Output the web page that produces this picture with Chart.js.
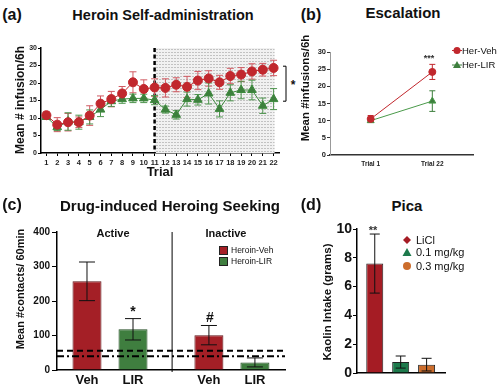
<!DOCTYPE html>
<html>
<head>
<meta charset="utf-8">
<script src="https://cdn.jsdelivr.net/npm/chart.js@4.4.1/dist/chart.umd.min.js"></script>
<style>
    body { margin: 0; width: 500px; height: 386px; position: relative; background: #fff; overflow: hidden;
           font-family: "Liberation Sans", Arial, sans-serif; color: #111; }
    canvas { position: absolute; }
    .t { position: absolute; white-space: nowrap; transform: translate(-50%, -50%); font-weight: bold; }
    .rot { transform: translate(-50%, -50%) rotate(-90deg); }
    .leg { position: absolute; white-space: nowrap; display: flex; align-items: center; }
    .box { display: inline-block; width: 7px; height: 7px; border: 1px solid #222; margin-right: 3px; }
</style>
</head>
<body>
<canvas id="chart-a" width="290" height="140" style="left:0;top:40px"></canvas>
<canvas id="chart-b" width="200" height="140" style="left:300px;top:40px"></canvas>
<canvas id="chart-c" width="300" height="171" style="left:0;top:215px"></canvas>
<canvas id="chart-d" width="170" height="171" style="left:330px;top:215px"></canvas>

<div class="t" style="left:12px;top:15px;font-size:16px">(a)</div>
<div class="t" style="left:163px;top:15px;font-size:14.5px">Heroin Self-administration</div>
<div class="t rot" style="left:20px;top:100px;font-size:12px">Mean # infusion/6h</div>
<div class="t" style="left:160px;top:171px;font-size:13px">Trial</div>
<div class="t" style="left:293px;top:85px;font-size:12px">*</div>

<div class="t" style="left:311px;top:15px;font-size:16px">(b)</div>
<div class="t" style="left:403px;top:12px;font-size:15px">Escalation</div>
<div class="t rot" style="left:305px;top:88px;font-size:11.5px">Mean #infusions/6h</div>
<div class="t" style="left:429px;top:58px;font-size:9px;color:#333">***</div>
<div class="leg" style="left:452px;top:45px;font-size:9.5px">
    <svg width="10" height="9"><line x1="0" y1="4.5" x2="10" y2="4.5" stroke="#c1272d"/><circle cx="5" cy="4.5" r="3.5" fill="#c1272d"/></svg>Her-Veh
</div>
<div class="leg" style="left:452px;top:59px;font-size:9.5px">
    <svg width="10" height="9"><line x1="0" y1="5" x2="10" y2="5" stroke="#3d7f3d"/><polygon points="5,1 9,8 1,8" fill="#3d7f3d"/></svg>Her-LIR
</div>

<div class="t" style="left:12px;top:205px;font-size:16px">(c)</div>
<div class="t" style="left:170px;top:205px;font-size:15px">Drug-induced Heroing Seeking</div>
<div class="t rot" style="left:20px;top:289px;font-size:11px">Mean #contacts/ 60min</div>
<div class="t" style="left:113px;top:233px;font-size:11px">Active</div>
<div class="t" style="left:226px;top:233px;font-size:11px">Inactive</div>
<div class="t" style="left:133px;top:311px;font-size:14px">*</div>
<div class="t" style="left:210px;top:317px;font-size:14px">#</div>
<div class="leg" style="left:219px;top:245px;font-size:8.5px"><span class="box" style="background:#a41f26"></span>Heroin-Veh</div>
<div class="leg" style="left:219px;top:256px;font-size:8.5px"><span class="box" style="background:#3f7e3f"></span>Heroin-LIR</div>

<div class="t" style="left:311px;top:205px;font-size:16px">(d)</div>
<div class="t" style="left:407px;top:205px;font-size:15px">Pica</div>
<div class="t rot" style="left:327px;top:302px;font-size:11.5px">Kaolin Intake (grams)</div>
<div class="t" style="left:373px;top:230px;font-size:11px;color:#333">**</div>
<div class="leg" style="left:402px;top:234px;font-size:11px">
    <svg width="10" height="10" style="margin-right:4px"><polygon points="5,1 9,5 5,9 1,5" fill="#a51c24"/></svg>LiCl
</div>
<div class="leg" style="left:402px;top:246px;font-size:11px">
    <svg width="10" height="10" style="margin-right:4px"><polygon points="5,1 9.5,9 0.5,9" fill="#1d7a4c"/></svg>0.1 mg/kg
</div>
<div class="leg" style="left:402px;top:260px;font-size:11px">
    <svg width="10" height="10" style="margin-right:4px"><circle cx="5" cy="5" r="4" fill="#cc6d2c"/></svg>0.3 mg/kg
</div>

<script>
// (a) self-administration, 22 trials
const trials = ['1', '2', '3', '4', '5', '6', '7', '8', '9', '10', '11',
    '12', '13', '14', '15', '16', '17', '18', '19', '20', '21', '22'];
const vehMean = [10.8, 8.1, 8.8, 8.8, 10.7, 14.1, 15.4, 17.0, 20.2, 18.3, 18.7,
    18.6, 19.5, 18.9, 20.7, 21.3, 20.2, 22.0, 22.4, 23.3, 23.8, 24.3];
const vehErr = [1.0, 2.0, 2.5, 1.5, 2.8, 2.2, 2.2, 2.0, 3.0, 2.6, 2.5,
    2.6, 2.0, 3.0, 2.6, 2.2, 2.0, 2.2, 2.0, 2.2, 1.8, 2.2];
const lirMean = [10.3, 7.4, 9.0, 8.8, 10.3, 12.4, 14.8, 15.4, 15.6, 15.6, 15.1,
    12.4, 10.9, 15.4, 15.2, 17.0, 12.6, 17.2, 18.0, 18.0, 13.5, 15.4];
const lirErr = [0.6, 1.0, 2.5, 2.0, 2.0, 2.0, 1.5, 1.2, 1.2, 1.2, 1.3,
    1.0, 1.2, 2.0, 1.5, 3.0, 2.3, 2.3, 2.5, 2.8, 2.2, 3.0];

// (b) escalation
const escTrials = ['Trial 1', 'Trial 22'];
const escVeh = [10.5, 24.2];
const escVehErr = [1.0, 2.2];
const escLir = [10.0, 15.7];
const escLirErr = [0.5, 3.0];

// (c) drug-induced seeking
const leverGroups = ['Active', 'Inactive'];
const seekTreat = ['Veh', 'LIR'];
const seekVeh = [257, 101];
const seekVehErr = [56, 28];
const seekLir = [118, 22];
const seekLirErr = [31, 13];
const seekBaselines = [56, 40];

// (d) pica
const picaDoses = ['LiCl', '0.1 mg/kg', '0.3 mg/kg'];
const picaMean = [7.6, 0.76, 0.58];
const picaErr = [2.05, 0.42, 0.44];

Chart.defaults.font.family = '"Liberation Sans", Arial, sans-serif';
Chart.defaults.color = '#222';
Chart.defaults.animation = false;

function drawErrorBars(chart, opts) {
    const ctx = chart.ctx;
    const yScale = chart.scales.y;
    chart.data.datasets.forEach((ds, i) => {
        if (!ds.errors) return;
        const meta = chart.getDatasetMeta(i);
        ctx.save();
        ctx.strokeStyle = ds.errorColor || opts.color || '#000';
        ctx.lineWidth = opts.lineWidth || 1;
        meta.data.forEach((el, j) => {
            const v = meta.controller.getParsed(j).y;
            const e = ds.errors[j];
            const top = yScale.getPixelForValue(v + e);
            const bot = yScale.getPixelForValue(v - e);
            const w = opts.capWidth / 2;
            ctx.beginPath();
            ctx.moveTo(el.x, top); ctx.lineTo(el.x, bot);
            ctx.moveTo(el.x - w, top); ctx.lineTo(el.x + w, top);
            ctx.moveTo(el.x - w, bot); ctx.lineTo(el.x + w, bot);
            ctx.stroke();
        });
        ctx.restore();
    });
}

const errorBarsPlugin = {
    id: 'errorBars',
    beforeDatasetsDraw(chart, args, opts) { if (opts.behind) drawErrorBars(chart, opts); },
    afterDatasetsDraw(chart, args, opts) { if (!opts.behind) drawErrorBars(chart, opts); }
};

// shaded block + dashed line from trial 11 on, bracket at the end
const escalationPhase = {
    id: 'escalationPhase',
    beforeDatasetsDraw(chart) {
        const {ctx, chartArea, scales: {x, y}} = chart;
        const pc = document.createElement('canvas');
        pc.width = 3; pc.height = 3;
        const p = pc.getContext('2d');
        p.fillStyle = '#f1f1f1'; p.fillRect(0, 0, 3, 3);
        p.fillStyle = '#c2c2c2'; p.fillRect(0, 0, 2, 1);
        const x0 = x.getPixelForValue(10);
        const x1 = x.getPixelForValue(trials.length - 1) + 1;
        ctx.save();
        ctx.fillStyle = ctx.createPattern(pc, 'repeat');
        ctx.fillRect(x0, chartArea.top, x1 - x0, chartArea.bottom - chartArea.top);
        ctx.strokeStyle = '#000';
        ctx.lineWidth = 2.5;
        ctx.setLineDash([4, 2.5]);
        ctx.beginPath();
        ctx.moveTo(x0, chartArea.top);
        ctx.lineTo(x0, chartArea.bottom);
        ctx.stroke();
        ctx.setLineDash([]);
        ctx.lineWidth = 1;
        const bx = chartArea.right + 4;
        const yt = y.getPixelForValue(vehMean[vehMean.length - 1] + 0.5);
        const yb = y.getPixelForValue(lirMean[lirMean.length - 1] - 0.6);
        ctx.beginPath();
        ctx.moveTo(bx, yt); ctx.lineTo(bx + 3, yt); ctx.lineTo(bx + 3, yb); ctx.lineTo(bx, yb);
        ctx.stroke();
        ctx.restore();
    }
};

// dashed baseline lines and divider for (c)
const seekingGuides = {
    id: 'seekingGuides',
    afterDatasetsDraw(chart) {
        const {ctx, chartArea, scales: {x, y}} = chart;
        ctx.save();
        ctx.strokeStyle = '#000';
        ctx.lineWidth = 2;
        [[6, 4], [7, 3, 2, 3]].forEach((dash, k) => {
            const py = y.getPixelForValue(seekBaselines[k]);
            ctx.setLineDash(dash);
            ctx.beginPath();
            ctx.moveTo(chartArea.left, py);
            ctx.lineTo(chartArea.right, py);
            ctx.stroke();
        });
        ctx.setLineDash([]);
        ctx.lineWidth = 1;
        const dx = x.getPixelForValue(1.85);
        ctx.beginPath();
        ctx.moveTo(dx, chartArea.top);
        ctx.lineTo(dx, chartArea.bottom + 2);
        ctx.stroke();
        ctx.restore();
    }
};

function fixedY(width, max, step, size, extra = {}) {
    return Object.assign({
        min: 0, max: max,
        afterFit: s => { s.width = width; },
        border: {color: '#000', width: 1.5},
        grid: {drawOnChartArea: false, tickLength: 3, tickColor: '#000'},
        ticks: {stepSize: step, padding: 1, color: '#222', font: {size: size, weight: 'bold'}}
    }, extra);
}

// (a)
new Chart(document.getElementById('chart-a'), {
    type: 'line',
    data: {
        labels: trials,
        datasets: [
            {
                label: 'Her-Veh', data: vehMean, errors: vehErr, errorColor: '#d05a62',
                borderColor: '#c1272d', backgroundColor: '#c1272d', borderWidth: 1,
                pointStyle: 'circle', pointRadius: 4.5
            },
            {
                label: 'Her-LIR', data: lirMean, errors: lirErr, errorColor: '#4f944f',
                borderColor: '#3d8a3d', backgroundColor: '#3d7f3d', borderWidth: 1,
                pointStyle: 'triangle', pointRadius: 5
            }
        ]
    },
    options: {
        responsive: false,
        layout: {padding: {top: 8, right: 11, bottom: 0, left: 0}},
        plugins: {legend: {display: false}, tooltip: {enabled: false},
            errorBars: {behind: true, capWidth: 7, lineWidth: 1}},
        scales: {
            x: {
                offset: true,
                afterFit: s => { s.height = 27; },
                border: {color: '#000', width: 1.5},
                grid: {drawOnChartArea: false, tickLength: 3, tickColor: '#000', offset: false},
                ticks: {padding: 2, color: '#222', maxRotation: 0, autoSkip: false, font: {size: 7.5, weight: 'bold'}}
            },
            y: fixedY(41, 30, 5, 7)
        }
    },
    plugins: [escalationPhase, errorBarsPlugin]
});

// (b)
new Chart(document.getElementById('chart-b'), {
    type: 'line',
    data: {
        datasets: [
            {
                label: 'Her-Veh', data: escVeh.map((v, i) => ({x: i + 1, y: v})), errors: escVehErr,
                errorColor: '#c1272d', borderColor: '#c1272d', backgroundColor: '#c1272d',
                borderWidth: 1, pointStyle: 'circle', pointRadius: 3.5
            },
            {
                label: 'Her-LIR', data: escLir.map((v, i) => ({x: i + 1, y: v})), errors: escLirErr,
                errorColor: '#3d7f3d', borderColor: '#4a9a4a', backgroundColor: '#3d7f3d',
                borderWidth: 1, pointStyle: 'triangle', pointRadius: 4
            }
        ]
    },
    options: {
        responsive: false,
        layout: {padding: {top: 12, right: 27, bottom: 0, left: 0}},
        plugins: {legend: {display: false}, tooltip: {enabled: false},
            errorBars: {behind: true, capWidth: 6, lineWidth: 1}},
        scales: {
            x: {
                type: 'linear', min: 0.34, max: 2.66,
                afterFit: s => { s.height = 25; },
                afterBuildTicks: s => { s.ticks = escTrials.map((t, i) => ({value: i + 1})); },
                border: {color: '#333', width: 1.5},
                grid: {display: false, drawTicks: false},
                ticks: {padding: 5, color: '#222', callback: v => escTrials[v - 1], font: {size: 6.5, weight: 'bold'}}
            },
            y: {
                type: 'linear', display: true, min: 0, max: 30,
                afterFit: s => { s.width = 30; },
                border: {display: true, color: '#999', width: 1},
                grid: {drawOnChartArea: false, drawTicks: true, tickLength: 3, tickColor: '#333'},
                ticks: {display: true, stepSize: 5, padding: 1, color: '#222', font: {size: 7.5, weight: 'bold'}}
            }
        }
    },
    plugins: [errorBarsPlugin]
});

// (c) bar positions: treatment index within each lever group
const seekPos = (g, i) => g * 2.65 + i;

new Chart(document.getElementById('chart-c'), {
    type: 'bar',
    data: {
        datasets: [
            {
                label: 'Heroin-Veh', data: seekVeh.map((v, g) => ({x: seekPos(g, 0), y: v})), errors: seekVehErr,
                backgroundColor: '#a41f26', borderColor: '#5e1216', borderWidth: 1,
                grouped: false, maxBarThickness: 29
            },
            {
                label: 'Heroin-LIR', data: seekLir.map((v, g) => ({x: seekPos(g, 1), y: v})), errors: seekLirErr,
                backgroundColor: '#3f7e3f', borderColor: '#224b22', borderWidth: 1,
                grouped: false, maxBarThickness: 29
            }
        ]
    },
    options: {
        responsive: false,
        layout: {padding: {top: 17, right: 15, bottom: 0, left: 0}},
        plugins: {legend: {display: false}, tooltip: {enabled: false},
            errorBars: {capWidth: 16, lineWidth: 1, color: '#111'}},
        scales: {
            x: {
                type: 'linear', min: -0.652, max: 4.304, offset: false,
                afterFit: s => { s.height = 16; },
                afterBuildTicks: s => {
                    s.ticks = [];
                    leverGroups.forEach((g, gi) => seekTreat.forEach((t, ti) => s.ticks.push({value: seekPos(gi, ti)})));
                },
                border: {color: '#000', width: 1.5},
                grid: {display: false, drawTicks: false},
                ticks: {padding: 3, color: '#111', callback: (v, i) => seekTreat[i % 2], font: {size: 13, weight: 'bold'}}
            },
            y: fixedY(57, 400, 100, 10, {
                grid: {drawOnChartArea: false, tickLength: 5, tickColor: '#000'},
                ticks: {stepSize: 100, padding: 2, color: '#111', font: {size: 10, weight: 'bold'}}
            })
        }
    },
    plugins: [seekingGuides, errorBarsPlugin]
});

// (d)
new Chart(document.getElementById('chart-d'), {
    type: 'bar',
    data: {
        datasets: [{
            label: 'Kaolin', data: picaMean.map((v, i) => ({x: i, y: v})), errors: picaErr,
            backgroundColor: ['#a51c24', '#1d7a4c', '#cc6d2c'], borderColor: '#222', borderWidth: 1,
            grouped: false, maxBarThickness: 17
        }]
    },
    options: {
        responsive: false,
        layout: {padding: {top: 14, right: 55, bottom: 0, left: 0}},
        plugins: {legend: {display: false}, tooltip: {enabled: false},
            errorBars: {capWidth: 10, lineWidth: 1, color: '#111'}},
        scales: {
            x: {
                type: 'linear', min: -0.685, max: 2.71, offset: false,
                afterFit: s => { s.height = 13; },
                afterBuildTicks: s => { s.ticks = picaDoses.map((d, i) => ({value: i})); },
                border: {color: '#000', width: 1.5},
                grid: {display: false, drawTicks: false},
                ticks: {display: false}
            },
            y: fixedY(27, 10, 2, 14, {
                grid: {drawOnChartArea: false, tickLength: 4, tickColor: '#000'},
                ticks: {stepSize: 2, padding: 1, color: '#111', font: {size: 14, weight: 'bold'}}
            })
        }
    },
    plugins: [errorBarsPlugin]
});
</script>
</body>
</html>
